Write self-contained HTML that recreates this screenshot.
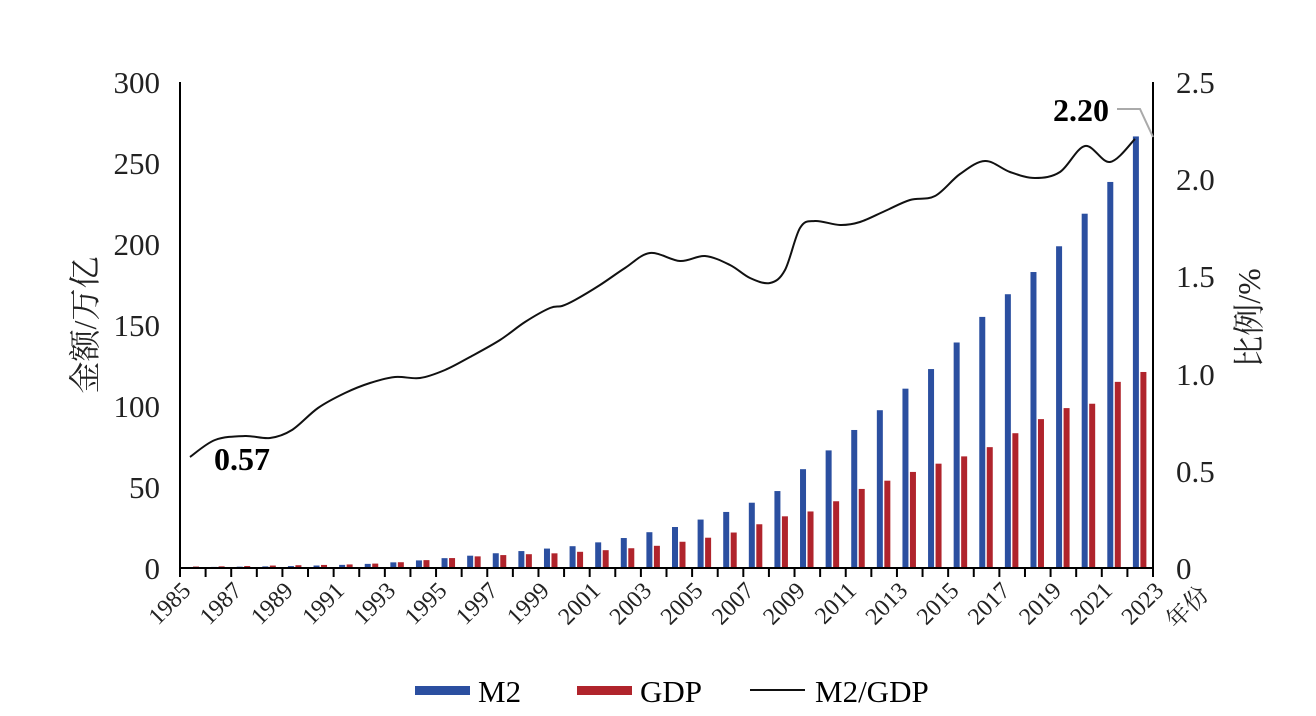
<!DOCTYPE html>
<html><head><meta charset="utf-8"><style>
body{margin:0;background:#fff;}
svg{display:block;font-family:"Liberation Serif","Noto Serif CJK SC",serif;}
</style></head><body>
<svg id="s" width="1316" height="716" xmlns="http://www.w3.org/2000/svg">
<g id="bars"></g>
<g stroke="#000" stroke-width="2" fill="none">
<line x1="180" y1="82" x2="180" y2="569"/>
<line x1="1153" y1="82" x2="1153" y2="569"/>
<line x1="179" y1="568" x2="1154" y2="568"/>
</g>
<g id="ticks" stroke="#000" stroke-width="2"></g>
<g font-size="31" text-anchor="end" fill="#222">
<text x="160" y="93">300</text><text x="160" y="174">250</text><text x="160" y="255">200</text>
<text x="160" y="336">150</text><text x="160" y="417">100</text><text x="160" y="498">50</text><text x="160" y="579">0</text>
</g>
<g font-size="31" fill="#222">
<text x="1176" y="93">2.5</text><text x="1176" y="190">2.0</text><text x="1176" y="287">1.5</text>
<text x="1176" y="385">1.0</text><text x="1176" y="482">0.5</text><text x="1176" y="579">0</text>
</g>
<text font-size="32" fill="#222" transform="translate(96,325) rotate(-90)" text-anchor="middle">金额/万亿</text>
<text font-size="32" fill="#222" transform="translate(1260,318) rotate(-90)" text-anchor="middle">比例/%</text>
<g id="xl" font-size="24" fill="#222" text-anchor="end"></g>
<text font-size="24" fill="#222" transform="translate(1210,596) rotate(-45)" text-anchor="end">年份</text>
<path id="ln" fill="none" stroke="#111" stroke-width="2"/>
<text x="214" y="470" font-size="32" font-weight="bold">0.57</text>
<text x="1053" y="121" font-size="32" font-weight="bold">2.20</text>
<polyline points="1117,109 1140,109 1153,137" fill="none" stroke="#aaa" stroke-width="2"/>
<rect x="415" y="686" width="55" height="9" fill="#2b4fa0"/>
<text x="478" y="702" font-size="31">M2</text>
<rect x="577" y="686" width="55" height="9" fill="#b0242c"/>
<text x="640" y="702" font-size="31">GDP</text>
<line x1="750" y1="690" x2="805" y2="690" stroke="#111" stroke-width="2"/>
<text x="815" y="702" font-size="31">M2/GDP</text>
</svg>
<script>
var m2=[0.5,0.67,0.83,1.0,1.19,1.53,1.93,2.54,3.49,4.69,6.08,7.6,9.1,10.45,11.99,13.46,15.83,18.5,22.1,25.3,29.9,34.6,40.3,47.5,61.0,72.6,85.2,97.4,110.7,122.8,139.2,155.0,169.0,182.7,198.6,218.7,238.3,266.4];
var gdp=[0.9,1.03,1.21,1.51,1.72,1.89,2.2,2.72,3.57,4.86,6.13,7.18,7.97,8.52,9.06,10.0,11.0,12.2,13.7,16.2,18.7,21.9,27.0,31.9,34.9,41.2,48.8,53.9,59.3,64.4,68.9,74.6,83.2,91.9,98.7,101.4,114.9,121.0];
var w=973/38,b='',t='',l='';
for(var i=0;i<38;i++){var x=180+i*w;
var h1=m2[i]*1.62,h2=gdp[i]*1.62;
b+='<rect x="'+(x+5.5)+'" y="'+(568-h1)+'" width="6" height="'+h1+'" fill="#2b4fa0"/>';
b+='<rect x="'+(x+13)+'" y="'+(568-h2)+'" width="6" height="'+h2+'" fill="#b0242c"/>';}
for(var i=0;i<=38;i++){var x=180+i*w;t+='<line x1="'+x+'" y1="568" x2="'+x+'" y2="577"/>';
if(i%2==0)l+='<text transform="translate('+(x+12)+',592) rotate(-45)">'+(1985+i)+'</text>';}
document.getElementById('bars').innerHTML=b;document.getElementById('ticks').innerHTML=t;document.getElementById('xl').innerHTML=l;
var p=[[190,457],[215,440],[245,436],[270,438],[292,430],[318,408],[345,393],[370,383],[395,377],[420,378],[445,370],[470,357],[500,340],[525,322],[550,308],[562,306],[575,300],[600,285],[625,268],[650,253],[680,261],[705,256],[730,265],[750,278],[770,283],[785,270],[800,228],[815,221],[840,225],[860,222],[885,211],[910,200],[935,196],[960,174],[985,161],[1010,172],[1035,178],[1060,172],[1085,146],[1110,162],[1135,139]];
var d='M'+p[0][0]+','+p[0][1];
for(var i=0;i<p.length-1;i++){var p0=p[i-1]||p[i],p1=p[i],p2=p[i+1],p3=p[i+2]||p2;
d+=' C'+(p1[0]+(p2[0]-p0[0])/6)+','+(p1[1]+(p2[1]-p0[1])/6)+' '+(p2[0]-(p3[0]-p1[0])/6)+','+(p2[1]-(p3[1]-p1[1])/6)+' '+p2[0]+','+p2[1];}
document.getElementById('ln').setAttribute('d',d);
</script>
</body></html>
